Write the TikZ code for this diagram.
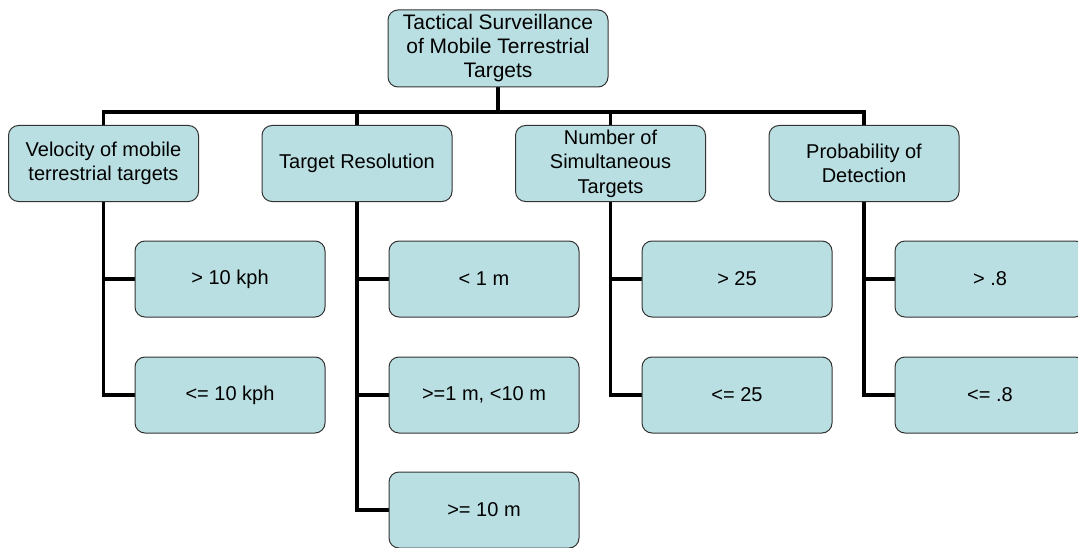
\documentclass[tikz,border=0pt]{standalone}
\usepackage{fontspec}
\setmainfont{Liberation Sans}
\usetikzlibrary{backgrounds}
\definecolor{boxfill}{HTML}{BADFE2}
\definecolor{boxline}{HTML}{333333}
\tikzset{
  box/.style={draw=boxline, line width=1pt, fill=boxfill, rounded corners=10pt,
    minimum width=190pt, minimum height=76pt, inner sep=0pt, align=center,
    font=\fontsize{20}{24.5}\selectfont},
  topbox/.style={box, minimum width=220pt, minimum height=77pt,
    font=\fontsize{21}{24}\selectfont},
  link/.style={draw=black, line width=3.5pt}
}
\begin{document}
\begin{tikzpicture}[x=1pt,y=-1pt]
\useasboundingbox (0,0) rectangle (1078,548);
\clip (0,0) rectangle (1078,548);
\node[topbox] (top) at (498,48.5) {Tactical Surveillance\\of Mobile Terrestrial\\Targets};
\node[box] (vel) at (103.5,163.5) {Velocity of mobile\\terrestrial targets};
\node[box] (res) at (357,163.5) {Target Resolution};
\node[box] (num) at (610.5,163.5) {Number of\\Simultaneous\\Targets};
\node[box] (prob) at (864,163.5) {Probability of\\Detection};
\node[box] (v1) at (230,279) {> 10 kph};
\node[box] (v2) at (230,395) {<= 10 kph};
\node[box] (r1) at (484,279) {< 1 m};
\node[box] (r2) at (484,395) {>=1 m, <10 m};
\node[box] (r3) at (484,510) {>= 10 m};
\node[box] (n1) at (737,279) {> 25};
\node[box] (n2) at (737,395) {<= 25};
\node[box] (p1) at (990,279) {> .8};
\node[box] (p2) at (990,395) {<= .8};
\coordinate (bar) at (0,112);
\begin{pgfonlayer}{background}
  \draw[link] (top.center) -- (top.center |- bar);
  \draw[link] ([xshift=-1.75pt]vel.center |- bar) -- ([xshift=1.75pt]prob.center |- bar);
  \draw[link] (vel.center |- bar) -- (vel.center |- v2.west);
  \draw[link] (res.center |- bar) -- (res.center |- r3.west);
  \draw[link] (num.center |- bar) -- (num.center |- n2.west);
  \draw[link] (prob.center |- bar) -- (prob.center |- p2.west);
  \draw[link] ([xshift=-1.75pt]vel.center |- v1.west) -- (v1.west);
  \draw[link] ([xshift=-1.75pt]vel.center |- v2.west) -- (v2.west);
  \draw[link] ([xshift=-1.75pt]res.center |- r1.west) -- (r1.west);
  \draw[link] ([xshift=-1.75pt]res.center |- r2.west) -- (r2.west);
  \draw[link] ([xshift=-1.75pt]res.center |- r3.west) -- (r3.west);
  \draw[link] ([xshift=-1.75pt]num.center |- n1.west) -- (n1.west);
  \draw[link] ([xshift=-1.75pt]num.center |- n2.west) -- (n2.west);
  \draw[link] ([xshift=-1.75pt]prob.center |- p1.west) -- (p1.west);
  \draw[link] ([xshift=-1.75pt]prob.center |- p2.west) -- (p2.west);
\end{pgfonlayer}
\end{tikzpicture}
\end{document}
